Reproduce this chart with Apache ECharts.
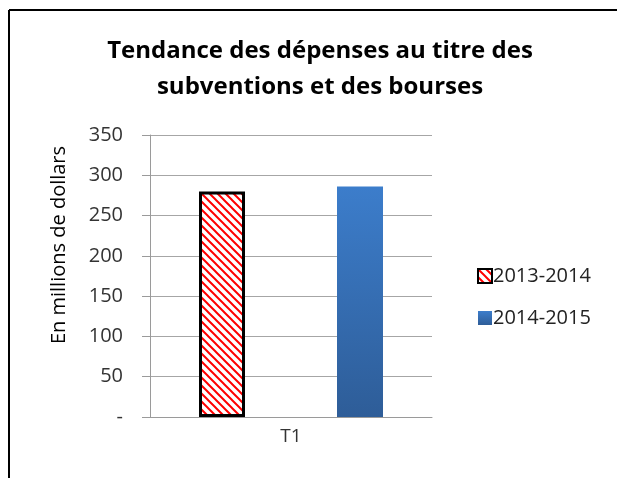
<!DOCTYPE html>
<html>
<head>
<meta charset="utf-8">
<script src="https://cdn.jsdelivr.net/npm/echarts@6/dist/echarts.min.js"></script>
<style>
  html, body { margin: 0; padding: 0; background: #fff; }
  #chart { width: 617px; height: 478px; }
</style>
</head>
<body>
<div id="chart"></div>
<script>
var categories = ['T1'];
var seriesNames = ['2013-2014', '2014-2015'];
var values2013 = [280];
var values2014 = [286];
var yTicks = [0, 50, 100, 150, 200, 250, 300, 350];
var yTitle = 'En millions de dollars';

// motif hachuré rouge pour 2013-2014
var pat = document.createElement('canvas');
pat.width = 8;
pat.height = 8;
var ctx = pat.getContext('2d');
ctx.fillStyle = '#fff';
ctx.fillRect(0, 0, 8, 8);
ctx.strokeStyle = '#ff0000';
ctx.lineWidth = 2;
ctx.beginPath();
ctx.moveTo(-2, -2); ctx.lineTo(10, 10);
ctx.moveTo(-2, 6); ctx.lineTo(2, 10);
ctx.moveTo(6, -2); ctx.lineTo(10, 2);
ctx.stroke();

var font = 'Open Sans, sans-serif';
var chart = echarts.init(document.getElementById('chart'));
var option = {
    animation: false,
    title: {
        text: 'Tendance des dépenses au titre des\nsubventions et des bourses',
        left: 315,
        top: 28,
        textAlign: 'center',
        textStyle: {
            fontFamily: font,
            fontSize: 24,
            fontWeight: 'bold',
            color: '#000',
            lineHeight: 36
        }
    },
    graphic: [
        {type: 'line', shape: {x1: 9, y1: 10, x2: 617, y2: 10}, style: {stroke: '#000', lineWidth: 2}},
        {type: 'line', shape: {x1: 9, y1: 10, x2: 9, y2: 478}, style: {stroke: '#000', lineWidth: 2}},
        {
            type: 'text', x: 59, y: 245, rotation: Math.PI / 2,
            style: {text: yTitle, font: '20px ' + font, fill: '#000', align: 'center', verticalAlign: 'middle'}
        }
    ],
    legend: {
        orient: 'vertical',
        left: 472,
        top: 261,
        itemGap: 22,
        itemWidth: 14,
        itemHeight: 14,
        icon: 'rect',
        textStyle: {fontFamily: font, fontSize: 20, color: '#222', padding: [0, 0, 0, -4]},
        data: seriesNames
    },
    grid: {left: 150, right: 185, top: 135, bottom: 61},
    xAxis: {
        type: 'category',
        data: categories,
        axisLine: {lineStyle: {color: '#9a9a9a'}},
        axisTick: {show: false},
        axisLabel: {fontFamily: font, fontSize: 19, color: '#333', margin: 10}
    },
    yAxis: {
        type: 'value',
        min: yTicks[0],
        max: yTicks[yTicks.length - 1],
        interval: 50,
        axisLine: {show: true, lineStyle: {color: '#9a9a9a'}},
        axisTick: {show: true, length: 8, lineStyle: {color: '#9a9a9a'}},
        splitLine: {lineStyle: {color: '#a6a6a6'}},
        axisLabel: {
            fontFamily: font, fontSize: 20, color: '#333', margin: 27,
            formatter: function (v) { return v === 0 ? '-' : String(v); }
        }
    },
    series: [
        {
            name: seriesNames[0],
            type: 'bar',
            data: values2013,
            barWidth: 46,
            barGap: '200%',
            itemStyle: {
                color: {image: pat, repeat: 'repeat'},
                borderColor: '#000',
                borderWidth: 3
            }
        },
        {
            name: seriesNames[1],
            type: 'bar',
            data: values2014,
            barWidth: 46,
            itemStyle: {
                color: new echarts.graphic.LinearGradient(0, 0, 0, 1, [
                    {offset: 0, color: '#3c7dcb'},
                    {offset: 1, color: '#2e5d98'}
                ])
            }
        }
    ]
};
chart.setOption(option);
</script>
</body>
</html>
